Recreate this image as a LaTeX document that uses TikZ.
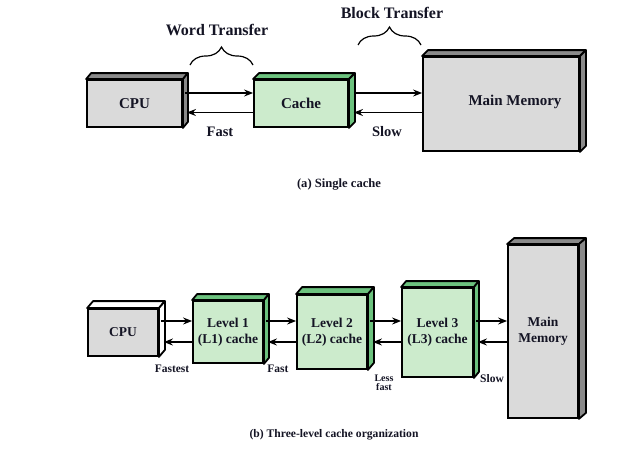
\documentclass[tikz,border=0pt]{standalone}
\usepackage{fontspec}
\setmainfont{Liberation Serif}
\usetikzlibrary{arrows.meta,decorations.pathreplacing,calc}
\definecolor{grayfront}{HTML}{DADADA}
\definecolor{grayside}{HTML}{8A8A8A}
\definecolor{greenfront}{HTML}{CCEBCC}
\definecolor{greenside}{HTML}{6CC27E}
\definecolor{txt}{HTML}{141424}
\tikzset{
  front/.style={draw, line width=1.8pt, inner sep=0pt, align=center, text=txt},
  face/.style={draw, line width=1.8pt, line join=round},
  arr/.style={line width=1.5pt, -{Stealth[length=9pt,width=7pt,inset=3pt]}},
  big/.style={font=\fontsize{15}{18}\selectfont\bfseries},
  mid/.style={font=\fontsize{13.5}{16}\selectfont\bfseries},
  lab/.style={text=txt, font=\fontsize{14.5}{17}\selectfont\bfseries},
  head/.style={text=txt, font=\fontsize{16}{19}\selectfont\bfseries},
  small/.style={text=txt, font=\fontsize{11.5}{13}\selectfont\bfseries},
  captext/.style={text=txt, font=\fontsize{12}{14}\selectfont\bfseries},
  brc/.style={line width=1.2pt, decorate, decoration={brace, amplitude=18pt}},
}
\newcommand\boxfaces[4]{%
  \draw[face, fill=#4] (#1.north west) -- ++(#2,-#3) -- ($(#1.north east)+(#2,-#3)$) -- (#1.north east) -- cycle;
  \draw[face, fill=#4] (#1.north east) -- ($(#1.north east)+(#2,-#3)$) -- ($(#1.south east)+(#2,-#3)$) -- (#1.south east) -- cycle;
}
\begin{document}
\begin{tikzpicture}[x=1pt,y=-1pt]
\useasboundingbox (0,0) rectangle (631,461);
% ---------- (a) single cache ----------
\node[front, big, fill=grayfront, minimum width=95, minimum height=47] (cpu) at (134.5,103.5) {CPU};
\boxfaces{cpu}{5}{6}{grayside}
\node[front, big, fill=greenfront, minimum width=94, minimum height=47] (cache) at (301,103.5) {Cache};
\boxfaces{cache}{6}{6}{greenside}
\node[front, fill=grayfront, minimum width=156, minimum height=94] (mm) at (501,104) {};
\boxfaces{mm}{6}{6}{grayside}
\node[big, text=txt] (mmlabel) at (515,102) {Main Memory};

\coordinate (ta) at (0,93);
\coordinate (tb) at (0,112.5);
\draw[arr] ($(cpu.east |- ta)+(2,0)$) -- (cache.west |- ta);
\draw[arr] (cache.west |- tb) -- ($(cpu.east |- tb)+(4,0)$);
\draw[arr] ($(cache.east |- ta)+(5,0)$) -- (mm.west |- ta);
\draw[arr] (mm.west |- tb) -- ($(cache.east |- tb)+(5,0)$);

\node[lab] (fast) at (220,132) {Fast};
\node[lab] (slow) at (387,132) {Slow};
\node[head] (word) at (217,30) {Word Transfer};
\node[head] (block) at (392,13) {Block Transfer};
\coordinate (wb1) at (190,65);
\coordinate (wb2) at (253,65);
\coordinate (bb1) at (358,45);
\coordinate (bb2) at (421,45);
\draw[brc] (wb1) -- (wb2);
\draw[brc] (bb1) -- (bb2);
\node[captext, font=\fontsize{12.6}{14}\selectfont\bfseries] (capa) at (339,185) {(a) Single cache};

% ---------- (b) three-level ----------
\node[front, mid, fill=grayfront, minimum width=70, minimum height=47] (cpub) at (123,332.5) {CPU};
\boxfaces{cpub}{6}{7}{white}
\node[front, mid, fill=greenfront, minimum width=70, minimum height=62] (l1) at (228,332) {Level 1\\(L1) cache};
\boxfaces{l1}{5}{6}{greenside}
\node[front, mid, fill=greenfront, minimum width=70, minimum height=74] (l2) at (332,332) {Level 2\\(L2) cache};
\boxfaces{l2}{6}{7}{greenside}
\node[front, mid, fill=greenfront, minimum width=71, minimum height=89] (l3) at (437.5,332.5) {Level 3\\(L3) cache};
\boxfaces{l3}{5}{6}{greenside}
\node[front, mid, fill=grayfront, minimum width=70, minimum height=173] (mmb) at (543,331.5) {Main\\Memory};
\boxfaces{mmb}{7}{6}{grayside}

\coordinate (ba) at (0,321);
\coordinate (bb) at (0,342);
\draw[arr] ($(cpub.east |- ba)+(2,0)$) -- (l1.west |- ba);
\draw[arr] (l1.west |- bb) -- ($(cpub.east |- bb)+(5,0)$);
\draw[arr] ($(l1.east |- ba)+(2,0)$) -- (l2.west |- ba);
\draw[arr] (l2.west |- bb) -- ($(l1.east |- bb)+(4,0)$);
\draw[arr] ($(l2.east |- ba)+(2,0)$) -- (l3.west |- ba);
\draw[arr] (l3.west |- bb) -- ($(l2.east |- bb)+(5,0)$);
\draw[arr] ($(l3.east |- ba)+(2,0)$) -- (mmb.west |- ba);
\draw[arr] (mmb.west |- bb) -- ($(l3.east |- bb)+(4,0)$);

\node[small] (fastest) at (172,369) {Fastest};
\node[small] (fastb) at (278,369) {Fast};
\node[small, align=center, font=\fontsize{10}{9}\selectfont\bfseries] (less) at (384,382.5) {Less\\fast};
\node[small] (slowb) at (492,379) {Slow};
\node[captext, font=\fontsize{11.6}{14}\selectfont\bfseries] (capb) at (334,435) {(b) Three-level cache organization};
\end{tikzpicture}
\end{document}
